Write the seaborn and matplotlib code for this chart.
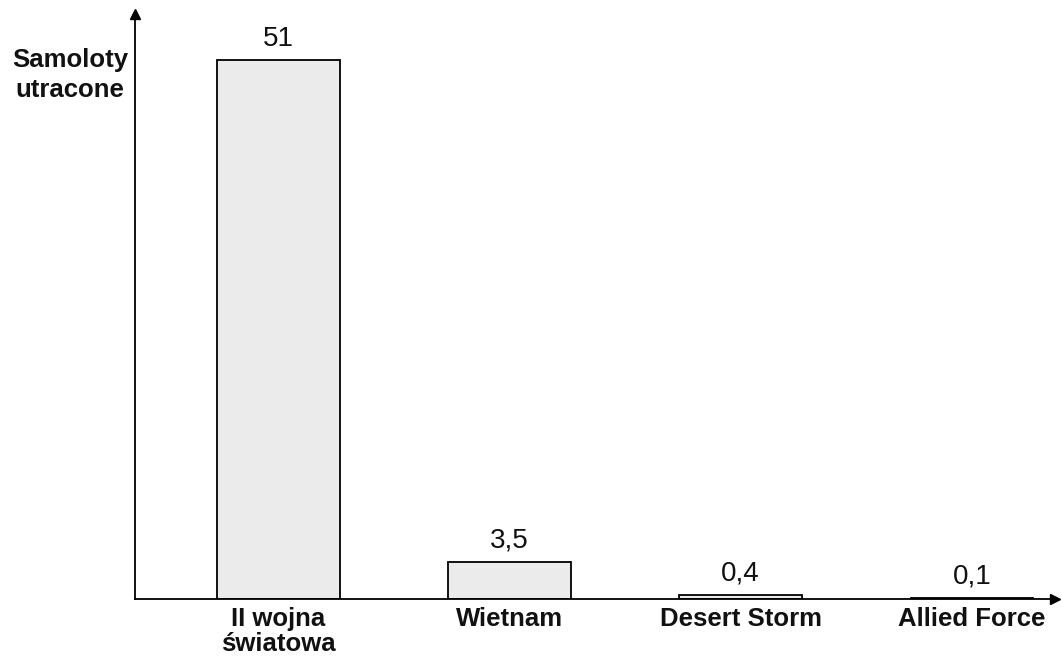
import matplotlib
matplotlib.use("Agg")
import matplotlib.pyplot as plt
import seaborn as sns
import pandas as pd

# Aircraft lost per 1000 sorties, by conflict
categories = ["II wojna\nświatowa", "Wietnam", "Desert Storm", "Allied Force"]
losses = [51, 3.5, 0.4, 0.1]
value_labels = ["51", "3,5", "0,4", "0,1"]
y_title = "Samoloty\nutracone"

sns.set_theme(style="white")
plt.rcParams["font.family"] = ["Liberation Sans", "DejaVu Sans"]

df = pd.DataFrame({"konflikt": categories, "straty": losses})

fig = plt.figure(figsize=(10.62, 6.59), dpi=100)
ax = fig.add_axes([0.1271, 0.0910, 0.8663, 0.8877])

sns.barplot(data=df, x="konflikt", y="straty", ax=ax, color="#ebebeb",
            saturation=1, edgecolor="black", linewidth=1.3, width=0.53)

ax.set_xlim(-0.62, 3.36)
ax.set_ylim(0, 55.35)

# value labels above the bars
for i, (v, lab) in enumerate(zip(losses, value_labels)):
    ax.annotate(lab, (i, v), xytext=(0, 6), textcoords="offset points",
                ha="center", va="bottom", fontsize=20, color="#111111")

# axes as arrows
for side in ("top", "right"):
    ax.spines[side].set_visible(False)
for side in ("left", "bottom"):
    ax.spines[side].set_color("black")
    ax.spines[side].set_linewidth(1.3)
ax.plot(1, 0, ">", color="black", markersize=7, transform=ax.transAxes, clip_on=False)
ax.plot(0, 1, "^", color="black", markersize=7, transform=ax.transAxes, clip_on=False)

ax.set_yticks([])
ax.tick_params(axis="x", length=0, pad=6)
ax.set_xticks(range(len(categories)))
ax.set_xticklabels(categories, fontsize=18.5, fontweight="bold", color="#111111",
                   linespacing=1.05)
ax.set_xlabel("")
ax.set_ylabel("")

fig.text(70 / 1062, 1 - 75 / 659, y_title, ha="center", va="center",
         fontsize=18.5, fontweight="bold", color="#111111", linespacing=1.3)

fig.savefig("out.png", dpi=100)
